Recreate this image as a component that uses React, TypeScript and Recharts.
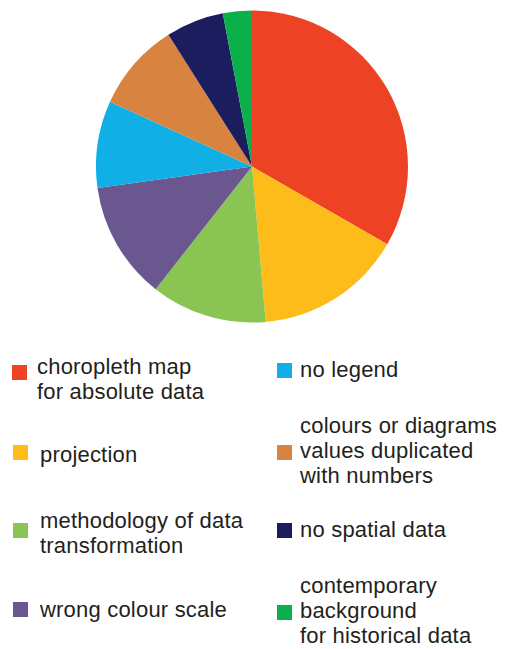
import React from "react";
import { PieChart, Pie, Cell } from "recharts";

const categories = [
  "choropleth map\nfor absolute data",
  "projection",
  "methodology of data\ntransformation",
  "wrong colour scale",
  "no legend",
  "colours or diagrams\nvalues duplicated\nwith numbers",
  "no spatial data",
  "contemporary\nbackground\nfor historical data",
];

const values = [33.3, 15.3, 12.0, 12.2, 9.0, 9.2, 6.0, 3.0];

const colors = [
  "#ED4224",
  "#FDBC1A",
  "#8AC453",
  "#6B578F",
  "#10AFE5",
  "#D8833F",
  "#1B1D5E",
  "#0BB04B",
];

const data = categories.map((name, i) => ({ name, value: values[i] }));

// legend layout: [squareX, squareY, textX, textTop]
const legendLayout: [number, number, number, number][] = [
  [12, 365, 37, 354],
  [13, 445, 40, 441.6],
  [13, 523, 40, 508.2],
  [13, 602, 40, 596.6],
  [277, 363, 300, 356.6],
  [277, 445, 300, 413.2],
  [277, 523, 300, 516.6],
  [277, 605, 300, 573.2],
];

export default function App() {
  return (
    <div
      style={{
        position: "absolute",
        left: 0,
        top: 0,
        width: 510,
        height: 649,
        background: "#fff",
        fontFamily: "'Liberation Sans', Arial, sans-serif",
      }}
    >
      <PieChart width={510} height={649} margin={{ top: 0, right: 0, bottom: 0, left: 0 }}>
        <Pie
          data={data}
          dataKey="value"
          nameKey="name"
          cx={252}
          cy={166.5}
          outerRadius={156}
          startAngle={90}
          endAngle={-270}
          stroke="none"
          isAnimationActive={false}
        >
          {data.map((d, i) => (
            <Cell key={d.name} fill={colors[i]} />
          ))}
        </Pie>
      </PieChart>
      {categories.map((label, i) => {
        const [sx, sy, tx, ty] = legendLayout[i];
        return (
          <React.Fragment key={label}>
            <div
              style={{
                position: "absolute",
                left: sx,
                top: sy,
                width: 15,
                height: 15,
                background: colors[i],
              }}
            />
            <div
              style={{
                position: "absolute",
                left: tx,
                top: ty,
                fontSize: 22,
                lineHeight: "25px",
                color: "#231F20",
                whiteSpace: "pre",
                letterSpacing: 0.2,
              }}
            >
              {label}
            </div>
          </React.Fragment>
        );
      })}
    </div>
  );
}
